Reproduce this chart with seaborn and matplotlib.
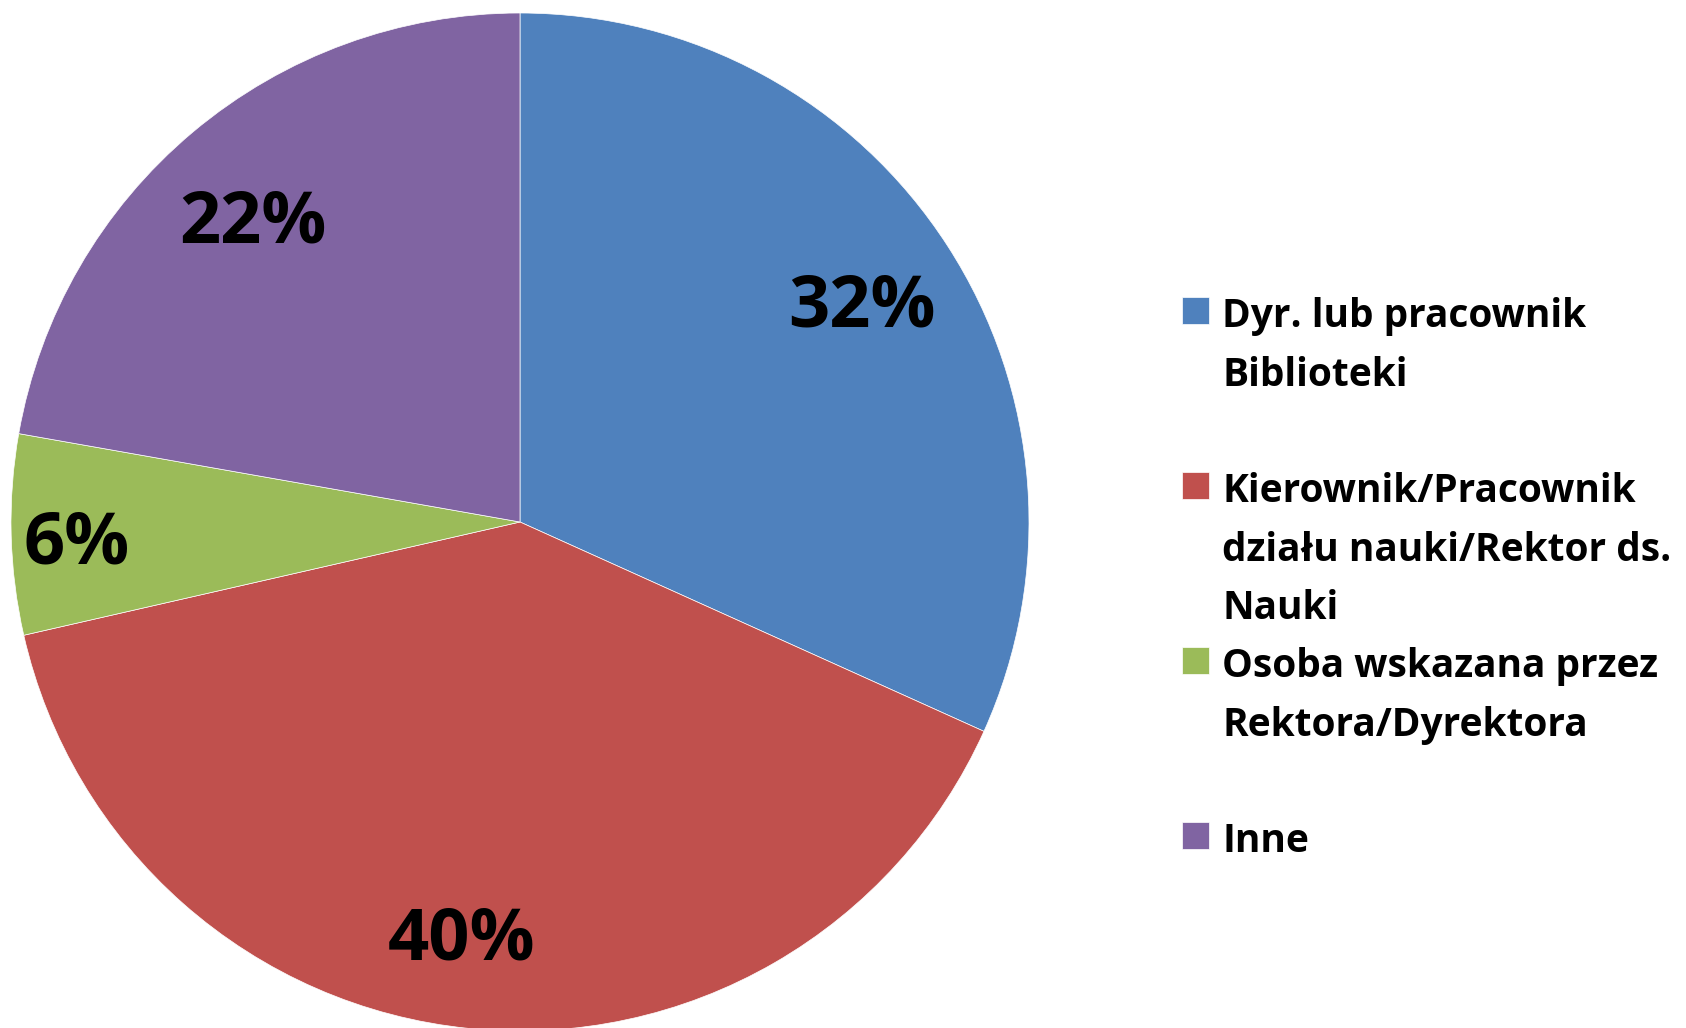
import matplotlib
matplotlib.use("Agg")
import seaborn as sns
from matplotlib import pyplot as plt

# data (counts -> 32 / 40 / 6 / 22 %)
categories = [
    "Dyr. lub pracownik\nBiblioteki\n",
    "Kierownik/Pracownik\ndziału nauki/Rektor ds.\nNauki",
    "Osoba wskazana przez\nRektora/Dyrektora\n",
    "Inne\n\n",
]
counts = [20, 25, 4, 14]
colors = ["#4F81BD", "#C0504D", "#9BBB59", "#8064A2"]

sns.set_theme(style="white")
plt.rcParams['font.family'] = ['Open Sans', 'DejaVu Sans']
plt.rcParams['text.color'] = 'black'

W, H = 1686, 1028
fig = plt.figure(figsize=(W / 100, H / 100), dpi=100)

# pie centre (520, 522) px, radius 509 px
cx, cy, r = 520, 522, 509
ax = fig.add_axes([(cx - r) / W, (H - cy - r) / H, 2 * r / W, 2 * r / H])

wedges, texts, autotexts = ax.pie(
    counts, colors=sns.color_palette(colors), startangle=90, counterclock=False,
    radius=1, autopct=lambda p: f"{p:.0f}%", pctdistance=0.80,
    wedgeprops=dict(linewidth=0.5, edgecolor="white"),
    textprops=dict(fontsize=52, fontweight="bold", color="black"))
for t in autotexts:
    t.set_va("center_baseline")
# nudges to match the label placement of the original
x6, y6 = autotexts[2].get_position()
autotexts[2].set_position((x6 * 1.09, y6 * 1.09 - 0.005))
x4, y4 = autotexts[1].get_position()
autotexts[1].set_position((x4 - 0.035, y4 - 0.01))
x2, y2 = autotexts[3].get_position()
autotexts[3].set_position((x2 - 0.01, y2 - 0.01))
x3, y3 = autotexts[0].get_position()
autotexts[0].set_position((x3, y3 + 0.005))
ax.set_xlim(-1, 1)
ax.set_ylim(-1, 1)
ax.set_aspect("equal")
ax.axis("off")

leg = fig.legend(wedges, categories, loc="upper left",
                 bbox_to_anchor=(1182 / W, 1 - 297 / H),
                 frameon=False, borderpad=0, borderaxespad=0,
                 labelspacing=0.49, handlelength=0.7, handleheight=0.7,
                 handletextpad=0.33, labelcolor="black",
                 prop=dict(family=['Open Sans', 'DejaVu Sans'], weight="bold", size=28))
for t in leg.get_texts():
    t.set_linespacing(1.65)
for hp in leg._legend_handle_box.get_children():
    for row in hp.get_children():
        row.align = "top"

fig.savefig("out.png", dpi=100)
